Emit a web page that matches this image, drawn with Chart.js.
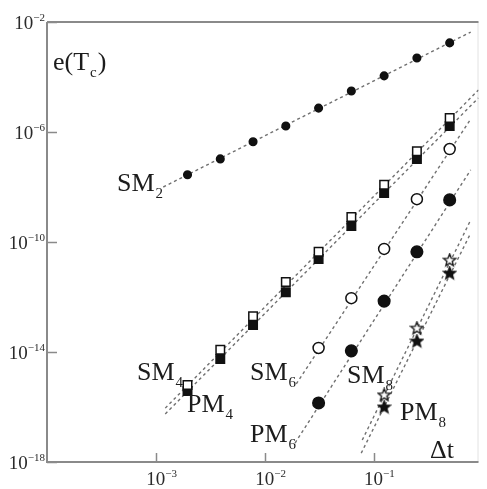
<!DOCTYPE html>
<html>
<head>
<meta charset="utf-8">
<script src="https://cdn.jsdelivr.net/npm/chart.js@4"></script>
<style>
  html, body { margin: 0; padding: 0; background: #fff; }
  canvas { display: block; }
</style>
</head>
<body>
<canvas id="errChart" width="487" height="489"></canvas>
<script>
// step sizes dt = 2^-9 ... 2^-1
var dtAll = [0.001953125, 0.00390625, 0.0078125, 0.015625, 0.03125, 0.0625, 0.125, 0.25, 0.5];
var dtSix = [0.03125, 0.0625, 0.125, 0.25, 0.5];
var dtEight = [0.125, 0.25, 0.5];

// errors e(Tc)
var errSM2 = [2.8e-8, 1.05e-7, 4.4e-7, 1.66e-6, 7.4e-6, 3.1e-5, 1.1e-4, 4.9e-4, 1.74e-3];
var errSM4 = [6.3e-16, 1.2e-14, 2.0e-13, 3.5e-12, 4.4e-11, 8.1e-10, 1.2e-8, 2.0e-7, 3.2e-6];
var errPM4 = [3.8e-16, 5.6e-15, 9.5e-14, 1.5e-12, 2.4e-11, 3.8e-10, 6.0e-9, 1.05e-7, 1.66e-6];
var errSM6 = [1.4e-14, 9.1e-13, 5.6e-11, 3.6e-9, 2.4e-7];
var errPM6 = [1.4e-16, 1.1e-14, 7.1e-13, 4.4e-11, 3.4e-9];
var errSM8 = [2.75e-16, 7.4e-14, 2.2e-11];
var errPM8 = [1.0e-16, 2.5e-14, 7.4e-12];

// dashed reference lines (end points)
var fitSM2x = [1.17e-3, 0.78], fitSM2y = [1.0e-8, 4.3e-3];
var fitSM4x = [1.22e-3, 0.92], fitSM4y = [9.1e-17, 3.4e-5];
var fitPM4x = [1.22e-3, 0.92], fitPM4y = [5.6e-17, 1.74e-5];
var fitSM6x = [0.0195, 0.78], fitSM6y = [6.9e-16, 2.95e-6];
var fitPM6x = [0.019, 0.78], fitPM6y = [4.9e-18, 4.2e-8];
var fitSM8x = [0.0787, 0.78], fitSM8y = [6.3e-18, 6.3e-10];
var fitPM8x = [0.077, 0.78], fitPM8y = [2.1e-18, 2.1e-10];

// ticks: value and exponent shown as 10^exp
var xTickValues = [1e-3, 1e-2, 1e-1];
var xTickExps = ['\u22123', '\u22122', '\u22121'];
var yTickValues = [1e-18, 1e-14, 1e-10, 1e-6, 1e-2];
var yTickExps = ['\u221218', '\u221214', '\u221210', '\u22126', '\u22122'];

function pts(xs, ys) {
    return xs.map(function (x, i) { return { x: x, y: ys[i] }; });
}

function makeStar(filled) {
    var c = document.createElement('canvas');
    c.width = 15; c.height = 15;
    var g = c.getContext('2d');
    g.beginPath();
    for (var i = 0; i < 10; i++) {
        var r = i % 2 === 0 ? 6.5 : 2.8;
        var a = -Math.PI / 2 + i * Math.PI / 5;
        g.lineTo(7.5 + r * Math.cos(a), 7.8 + r * Math.sin(a));
    }
    g.closePath();
    g.fillStyle = filled ? '#111' : '#fff';
    g.fill();
    g.lineWidth = 1.3;
    g.strokeStyle = '#111';
    g.stroke();
    return c;
}

function marks(data, style, radius, filled) {
    return {
        data: data,
        showLine: false,
        pointStyle: style,
        pointRadius: radius,
        pointHoverRadius: radius,
        pointBorderWidth: 1.5,
        pointBorderColor: '#111',
        pointBackgroundColor: filled ? '#111' : '#fff',
        order: 1
    };
}

function fit(data) {
    return {
        data: data,
        showLine: true,
        pointRadius: 0,
        borderColor: '#707070',
        borderWidth: 1.4,
        borderDash: [3, 3],
        order: 2
    };
}

// text labels on the plot
var labels = [
    { text: 'e(T', sub: 'c', tail: ')', x: 53, y: 70 },
    { text: 'SM', sub: '2', x: 117, y: 191 },
    { text: 'SM', sub: '4', x: 137, y: 380 },
    { text: 'PM', sub: '4', x: 187, y: 412 },
    { text: 'SM', sub: '6', x: 250, y: 380 },
    { text: 'PM', sub: '6', x: 250, y: 442 },
    { text: 'SM', sub: '8', x: 347, y: 383 },
    { text: 'PM', sub: '8', x: 400, y: 420 },
    { text: '\u0394t', x: 430, y: 458 }
];

var BIG = '19px "Liberation Serif"';
var SMALL = '11px "Liberation Serif"';

var framePlugin = {
    id: 'frame',
    beforeDatasetsDraw: function (chart) {
        var ctx = chart.ctx, a = chart.chartArea;
        var xs = chart.scales.x, ys = chart.scales.y;
        ctx.save();
        ctx.strokeStyle = '#e2e2e2';
        ctx.lineWidth = 1;
        ctx.beginPath();
        ctx.moveTo(a.right - 0.5, a.top);
        ctx.lineTo(a.right - 0.5, a.bottom);
        ctx.stroke();
        ctx.strokeStyle = '#8a8a8a';
        ctx.lineWidth = 2;
        ctx.beginPath();
        ctx.moveTo(a.left, a.top);
        ctx.lineTo(a.right, a.top);
        ctx.moveTo(a.left, a.top);
        ctx.lineTo(a.left, a.bottom);
        ctx.lineTo(a.right, a.bottom);
        ctx.stroke();
        ctx.lineWidth = 1.5;
        ctx.beginPath();
        xTickValues.forEach(function (v) {
            var px = Math.round(xs.getPixelForValue(v)) + 0.5;
            ctx.moveTo(px, a.bottom);
            ctx.lineTo(px, a.bottom - 9);
        });
        yTickValues.forEach(function (v) {
            var py = Math.round(ys.getPixelForValue(v)) + 0.5;
            ctx.moveTo(a.left, py);
            ctx.lineTo(a.left + 10, py);
        });
        ctx.stroke();

        // tick labels 10^n
        ctx.fillStyle = '#2a2a2a';
        ctx.textBaseline = 'alphabetic';
        ctx.textAlign = 'left';
        yTickValues.forEach(function (v, i) {
            var py = ys.getPixelForValue(v);
            ctx.font = SMALL;
            var we = ctx.measureText(yTickExps[i]).width;
            ctx.font = BIG;
            var wb = ctx.measureText('10').width;
            var right = a.left - 2;
            ctx.fillText('10', right - we - wb, py + 7);
            ctx.font = SMALL;
            ctx.fillText(yTickExps[i], right - we, py - 1);
        });
        xTickValues.forEach(function (v, i) {
            var px = xs.getPixelForValue(v);
            ctx.font = BIG;
            var wb = ctx.measureText('10').width;
            ctx.fillText('10', px - wb / 2, a.bottom + 23);
            ctx.font = SMALL;
            ctx.fillText(xTickExps[i], px + wb / 2, a.bottom + 15);
        });
        ctx.restore();
    },
    afterDraw: function (chart) {
        var ctx = chart.ctx;
        ctx.save();
        ctx.fillStyle = '#1c1c1c';
        ctx.textBaseline = 'alphabetic';
        labels.forEach(function (l) {
            ctx.font = '26px "Liberation Serif"';
            ctx.fillText(l.text, l.x, l.y);
            var w = ctx.measureText(l.text).width;
            if (l.sub) {
                ctx.font = '15px "Liberation Serif"';
                ctx.fillText(l.sub, l.x + w + 1, l.y + 7);
                var sw = ctx.measureText(l.sub).width;
                if (l.tail) {
                    ctx.font = '26px "Liberation Serif"';
                    ctx.fillText(l.tail, l.x + w + sw + 2, l.y);
                }
            }
        });
        ctx.restore();
    }
};

new Chart(document.getElementById('errChart'), {
    type: 'scatter',
    data: {
        datasets: [
            marks(pts(dtAll, errSM2), 'circle', 3.8, true),
            marks(pts(dtAll, errSM4), 'rect', 6, false),
            marks(pts(dtAll, errPM4), 'rect', 6, true),
            marks(pts(dtSix, errSM6), 'circle', 5.5, false),
            marks(pts(dtSix, errPM6), 'circle', 5.8, true),
            marks(pts(dtEight, errSM8), makeStar(false), 7, false),
            marks(pts(dtEight, errPM8), makeStar(true), 7, true),
            fit(pts(fitSM2x, fitSM2y)),
            fit(pts(fitSM4x, fitSM4y)),
            fit(pts(fitPM4x, fitPM4y)),
            fit(pts(fitSM6x, fitSM6y)),
            fit(pts(fitPM6x, fitPM6y)),
            fit(pts(fitSM8x, fitSM8y)),
            fit(pts(fitPM8x, fitPM8y))
        ]
    },
    options: {
        responsive: false,
        animation: false,
        devicePixelRatio: 1,
        layout: { padding: { top: 22, right: 2, left: 0, bottom: 0 } },
        plugins: { legend: { display: false }, tooltip: { enabled: false } },
        scales: {
            x: {
                type: 'logarithmic',
                min: 1e-4,
                max: 0.92,
                grid: { display: false, drawTicks: false },
                border: { display: false },
                afterBuildTicks: function (scale) {
                    scale.ticks = xTickValues.map(function (v) { return { value: v }; });
                },
                afterFit: function (scale) { scale.height = 27; },
                ticks: { display: false }
            },
            y: {
                type: 'logarithmic',
                min: 1e-18,
                max: 1e-2,
                grid: { display: false, drawTicks: false },
                border: { display: false },
                afterBuildTicks: function (scale) {
                    scale.ticks = yTickValues.map(function (v) { return { value: v }; });
                },
                afterFit: function (scale) { scale.width = 47; },
                ticks: { display: false }
            }
        }
    },
    plugins: [framePlugin]
});
</script>
</body>
</html>
